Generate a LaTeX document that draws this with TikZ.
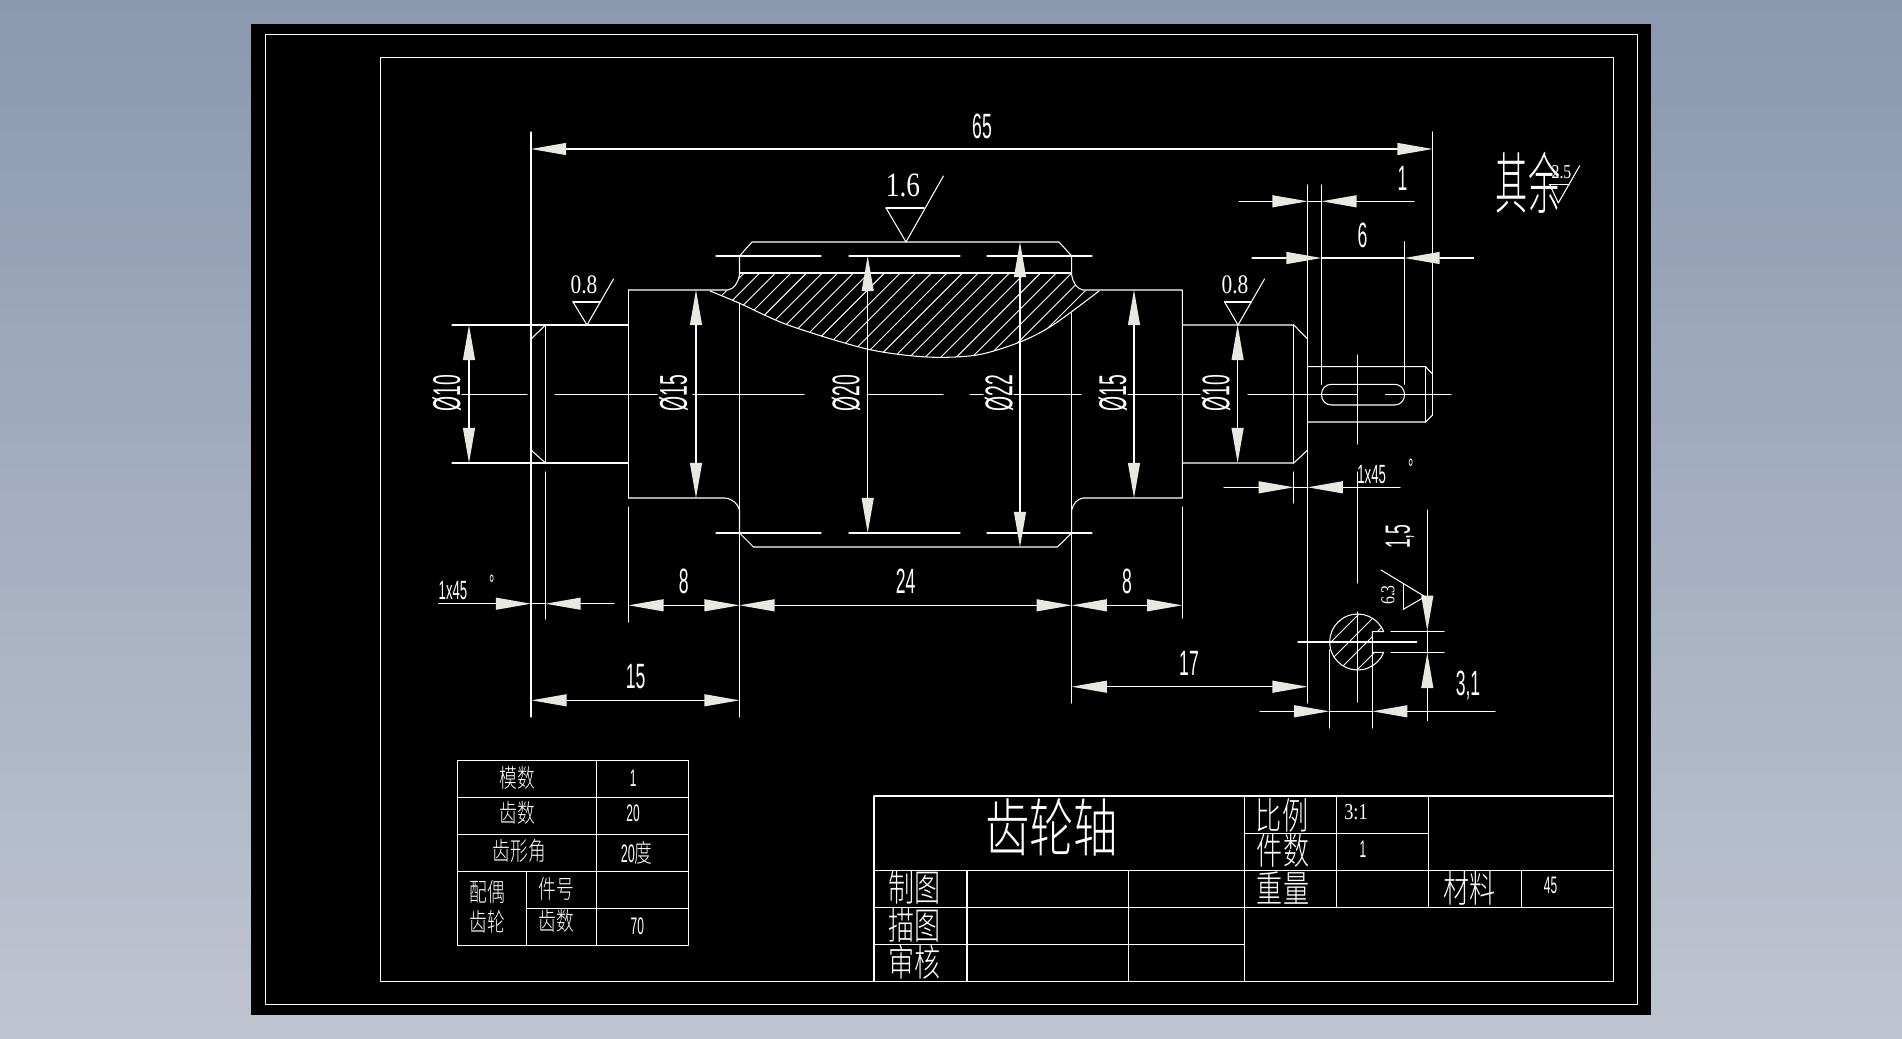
\documentclass[tikz,border=0pt]{standalone}
\usepackage{fontspec}
\usepackage{tikz}
\usetikzlibrary{arrows.meta}
\newfontfamily\cadfont[FakeStretch=0.5]{Liberation Sans}
\newfontfamily\rghfont[FakeStretch=0.8]{Liberation Serif}
\newfontfamily\cjkfont[FakeStretch=0.7,UprightFont=* Light]{Noto Sans CJK SC}
\newfontfamily\cjknarrow[FakeStretch=0.48,UprightFont=* Light]{Noto Sans CJK SC}
\definecolor{eeeedd}{rgb}{0.91,0.91,0.88}
\definecolor{bgtop}{rgb}{0.54,0.60,0.69}
\definecolor{bgbot}{rgb}{0.75,0.77,0.82}
\tikzstyle{every node}=[color=white,inner sep=0pt]
\tikzset{
  dimtext/.style={font=\cadfont\fontsize{10}{10}\selectfont},
  diatext/.style={font=\cadfont\fontsize{11}{11}\selectfont,rotate=90},
  smalltext/.style={font=\cadfont\fontsize{7.5}{8}\selectfont},
  celltext/.style={font=\cadfont\fontsize{6.8}{8}\selectfont},
  rghbig/.style={font=\rghfont\fontsize{9.7}{10}\selectfont},
  rghmid/.style={font=\rghfont\fontsize{7.6}{8}\selectfont},
  rghsmall/.style={font=\rghfont\fontsize{5.6}{6}\selectfont},
  tablecjk/.style={font=\cjkfont\fontsize{7.2}{8}\selectfont},
  blockcjk/.style={font=\cjkfont\fontsize{10.6}{11}\selectfont},
  titlecjk/.style={font=\cjkfont\fontsize{18}{19}\selectfont},
  wl/.style={line width=0.3pt,color=white},
  hatchline/.style={line width=0.26pt,color=white}
}
\begin{document}
\begin{tikzpicture}[line cap=round,line join=round,x=0.01cm,y=-0.01cm,
  >={Triangle[length=10pt,width=3.5pt,line width=0pt,fill=eeeedd,color=eeeedd]}]
            \useasboundingbox (0,0) rectangle (1902,1039);
            \shade[top color=bgtop,bottom color=bgbot] (0,0) rectangle (1902,1039);
            \fill[black] (251,24) rectangle (1651,1015);
            \draw [wl] (265.5,34.5) rectangle (1637.5,1004.5);
            \draw [wl] (380.5,57.5) rectangle (1613.5,981.5);
            % hatching of the cut
            \begin{scope}
            \clip (710,291) -- (728,290.5) .. controls (734,289) and (738,283) .. (739.5,275) -- (739.5,273) -- (1071.7,273) -- (1071.7,275) .. controls (1073,283) and (1077,289) .. (1083,290.5) -- (1099,291) -- plot[smooth] coordinates {(1053,325) (1020,342) (977,355) (927,357) (867,349) (788,325) (739,303) (710,291)} -- cycle;
            \foreach \k in {0,...,26}
              \draw [hatchline] ({713+15.6*\k},273) -- ++(-120,120);
            \end{scope}
            \draw [wl] plot[smooth] coordinates {(1099,291) (1053,325) (1020,342) (977,355) (927,357) (867,349) (788,325) (739,303) (710,291)};
            % shaft
            \draw [wl] (545.5,325) -- (545.5,463);
            \draw [wl] (531,339) -- (545.5,325);
            \draw [wl] (531,450) -- (545.5,463);
            \draw [wl] (452,325) -- (628.5,325);
            \draw [wl] (452,463) -- (628.5,463);
            \draw [wl] (628.5,290) -- (628.5,498);
            \draw [wl] (628.5,290) -- (728,290) .. controls (734,289) and (738,283) .. (739.5,275) -- (739.5,256) -- (752,242) -- (1059,242) -- (1071.7,256) -- (1071.7,275) .. controls (1073,283) and (1077,289) .. (1083,290) -- (1182.3,290) -- (1182.3,498) -- (1083,498) .. controls (1077,499) and (1073,504) .. (1071.7,510) -- (1071.7,533) -- (1057.4,547) -- (753.5,547) -- (739.5,533) -- (739.5,510) .. controls (738,504) and (733,499) .. (725,498) -- (628.5,498);
            \draw [wl] (739.5,273) -- (1071.7,273);
            \draw [wl] (739.5,303) -- (739.5,533);
            \draw [wl] (1071.7,313) -- (1071.7,533);
            \draw [wl] (716,256) -- (821,256);
            \draw [wl] (849,256) -- (960,256);
            \draw [wl] (987,256) -- (1092,256);
            \draw [wl] (716,533) -- (821,533);
            \draw [wl] (849,533) -- (960,533);
            \draw [wl] (987,533) -- (1092,533);
            \draw [wl] (1182.3,325) -- (1293.8,325) -- (1307.6,339);
            \draw [wl] (1182.3,463) -- (1293.8,463) -- (1307.6,450);
            \draw [wl] (1293.8,325) -- (1293.8,463);
            \draw [wl] (1307.6,366.7) -- (1425.5,366.7) -- (1432.6,374);
            \draw [wl] (1307.6,422) -- (1425.5,422) -- (1432.6,415);
            \draw [wl] (1425.5,366.7) -- (1425.5,422);
            \draw [wl,rounded corners=2.8pt] (1321.5,384.3) rectangle (1404.5,405);
            % center lines
            \draw [wl] (462,394.3) -- (527,394.3);
            \draw [wl] (555,394.3) -- (657,394.3);
            \draw [wl] (693,394.3) -- (804,394.3);
            \draw [wl] (867,394.3) -- (943,394.3);
            \draw [wl] (970,394.3) -- (983,394.3);
            \draw [wl] (1014,394.3) -- (1081,394.3);
            \draw [wl] (1128,394.3) -- (1200,394.3);
            \draw [wl] (1248,394.3) -- (1357.5,394.3);
            \draw [wl] (1385.5,394.3) -- (1451,394.3);
            \draw [wl] (1357.5,355) -- (1357.5,444);
            \draw [wl] (1357.5,472) -- (1357.5,583);
            \draw [wl] (1357.5,612) -- (1357.5,702);
            \draw [wl] (1298,642) -- (1416.7,642);
            % extension lines
            \draw [wl] (531,132) -- (531,717);
            \draw [wl] (1432.6,132) -- (1432.6,415);
            \draw [wl] (545.5,472) -- (545.5,619);
            \draw [wl] (628.5,507) -- (628.5,622);
            \draw [wl] (739.5,533) -- (739.5,717);
            \draw [wl] (1071.7,533) -- (1071.7,703);
            \draw [wl] (1182.3,507) -- (1182.3,618);
            \draw [wl] (1293.8,472) -- (1293.8,503);
            \draw [wl] (1307.6,185) -- (1307.6,703);
            \draw [wl] (1321.5,185) -- (1321.5,384.3);
            \draw [wl] (1404.5,241.7) -- (1404.5,384.3);
            \draw [wl] (1329.3,650) -- (1329.3,728);
            \draw [wl] (1372.3,652.3) -- (1372.3,728);
            \draw [wl] (1391,631.7) -- (1444,631.7);
            \draw [wl] (1391,652.3) -- (1444,652.3);
            % section
            \begin{scope}
            \clip (1383.7,652.3) -- (1372.3,652.3) -- (1372.3,631.7) -- (1383.7,631.7) arc[start angle=-21.6,end angle=-338.4,radius=28];
            \foreach \k in {0,...,6}
              \draw [hatchline] ({1345+18*\k},610) -- ++(-70,70);
            \end{scope}
            \draw [wl] (1383.7,652.3) -- (1372.3,652.3) -- (1372.3,631.7) -- (1383.7,631.7) arc[start angle=-21.6,end angle=-338.4,radius=28];
            % dimension lines
            \draw [<->,wl] (531,149) -- (1432.6,149);
            \draw [<->,wl] (469,325) -- (469,463);
            \draw [<->,wl] (696,290) -- (696,498);
            \draw [<->,wl] (867.7,256) -- (867.7,533);
            \draw [<->,wl] (1020,242) -- (1020,547);
            \draw [<->,wl] (1134,290) -- (1134,498);
            \draw [<->,wl] (1237.6,325) -- (1237.6,463);
            \draw [<->,wl] (628.5,605.3) -- (739.5,605.3);
            \draw [<->,wl] (739.5,605.3) -- (1071.7,605.3);
            \draw [<->,wl] (1071.7,605.3) -- (1182.3,605.3);
            \draw [<->,wl] (531.5,700.3) -- (739.5,700.3);
            \draw [<->,wl] (1071.7,686.7) -- (1307.6,686.7);
            \draw [->,wl] (438.4,603.7) -- (531,603.7);
            \draw [->,wl] (614,603.7) -- (545.5,603.7);
            \draw [wl] (531,603.7) -- (545.5,603.7);
            \draw [->,wl] (1239,201.3) -- (1307.6,201.3);
            \draw [->,wl] (1414,201.3) -- (1321.5,201.3);
            \draw [wl] (1307.6,201.3) -- (1321.5,201.3);
            \draw [->,wl] (1252,258) -- (1321.5,258);
            \draw [->,wl] (1473.7,258) -- (1404.5,258);
            \draw [wl] (1321.5,258) -- (1404.5,258);
            \draw [->,wl] (1224,487.3) -- (1293.8,487.3);
            \draw [->,wl] (1400,487.3) -- (1307.6,487.3);
            \draw [wl] (1293.8,487.3) -- (1307.6,487.3);
            \draw [->,wl] (1260,711.3) -- (1329.3,711.3);
            \draw [->,wl] (1495,711.3) -- (1372.3,711.3);
            \draw [wl] (1329.3,711.3) -- (1372.3,711.3);
            \draw [->,wl] (1427.3,510) -- (1427.3,630.7);
            \draw [->,wl] (1427.3,720.7) -- (1427.3,653);
            \draw [wl] (1427.3,630.7) -- (1427.3,653);
            % roughness marks
            \draw [wl] (886,208) -- (924,208);
            \draw [wl] (886,208) -- (906,242) -- (943.4,176);
            \draw [wl] (573,302) -- (600,302);
            \draw [wl] (573,302) -- (587,325) -- (613.5,279);
            \draw [wl] (1224.6,302) -- (1251.5,302);
            \draw [wl] (1224.6,302) -- (1238,325) -- (1264.5,279);
            \draw [wl] (1549.6,184.3) -- (1569.4,184.3);
            \draw [wl] (1549.6,184.3) -- (1558.3,203) -- (1579.7,165.7);
            \draw [wl] (1403.3,583.3) -- (1403.3,609.3);
            \draw [wl] (1403.3,609.3) -- (1425,596.7) -- (1381,570);
            % dimension texts
            \node [dimtext] (len65) at (982,126) {65};
            \node [diatext] (diaA) at (446.7,393) {Ø10};
            \node [diatext] (diaB) at (673.6,393) {Ø15};
            \node [diatext] (diaC) at (846,393) {Ø20};
            \node [diatext] (diaD) at (999,393) {Ø22};
            \node [diatext] (diaE) at (1112.7,393) {Ø15};
            \node [diatext] (diaF) at (1216,393) {Ø10};
            \node [dimtext] (lenA) at (1402.5,178) {1};
            \node [dimtext] (lenB) at (1362.6,235) {6};
            \node [dimtext] (lenC) at (683.7,581.7) {8};
            \node [dimtext] (lenD) at (905.7,581.7) {24};
            \node [dimtext] (lenE) at (1127,581.7) {8};
            \node [dimtext] (lenF) at (635.7,676.7) {15};
            \node [dimtext] (lenG) at (1189,663) {17};
            \node [dimtext] (keyA) at (1468,685) {3,1};
            \node [dimtext,rotate=90] (keyB) at (1400,536.7) {1,5};
            \node [smalltext] (chamA) at (453,590.7) {1x45};
            \node [smalltext] (chamB) at (1371.7,475) {1x45};
            \node [smalltext] (degA) at (491.7,584) {°};
            \node [smalltext] (degB) at (1410.7,468) {°};
            \node [rghbig] (rghA) at (903,185) {1.6};
            \node [rghmid] (rghB) at (584,285) {0.8};
            \node [rghmid] (rghC) at (1235,285) {0.8};
            \node [rghsmall] (rghD) at (1561.5,172) {2.5};
            \node [rghsmall,rotate=90] (rghE) at (1388,595) {6.3};
            \node [font=\cjknarrow\fontsize{19}{20}\selectfont] (rest) at (1528,183) {其余};
            % gear table
            \draw [wl] (457.3,760.3) rectangle (688.7,945.3);
            \draw [wl] (457.3,797.3) -- (688.7,797.3);
            \draw [wl] (457.3,834.3) -- (688.7,834.3);
            \draw [wl] (457.3,871.3) -- (688.7,871.3);
            \draw [wl] (526.3,908.3) -- (688.7,908.3);
            \draw [wl] (596.3,760.3) -- (596.3,945.3);
            \draw [wl] (526.3,871.3) -- (526.3,945.3);
            \node [tablecjk] (modName) at (517.3,778) {模数};
            \node [celltext] (modVal) at (633.3,778.7) {1};
            \node [tablecjk] (teethName) at (517.3,813) {齿数};
            \node [celltext] (teethVal) at (633,813.7) {20};
            \node [tablecjk] (angName) at (519.3,850.7) {齿形角};
            \node [tablecjk] (angVal) at (636.7,853) {{\cadfont 20}度};
            \node [tablecjk] (mateA) at (487.3,891.7) {配偶};
            \node [tablecjk] (mateB) at (487.3,921.7) {齿轮};
            \node [tablecjk] (partName) at (556.7,889.3) {件号};
            \node [tablecjk] (mateTeeth) at (556.7,920.7) {齿数};
            \node [celltext] (mateVal) at (637.3,926) {70};
            % title block
            \draw [wl] (874,796) -- (1613.7,796);
            \draw [wl] (1244.6,833.3) -- (1428.7,833.3);
            \draw [wl] (874,870.3) -- (1613.7,870.3);
            \draw [wl] (874,907.3) -- (1613.7,907.3);
            \draw [wl] (874,944.3) -- (1244.6,944.3);
            \draw [wl] (874,796) -- (874,981);
            \draw [wl] (967,870.3) -- (967,981);
            \draw [wl] (1128.7,870.3) -- (1128.7,981);
            \draw [wl] (1244.6,796) -- (1244.6,981);
            \draw [wl] (1336.6,796) -- (1336.6,907.3);
            \draw [wl] (1428.7,796) -- (1428.7,907.3);
            \draw [wl] (1521.7,870.3) -- (1521.7,907.3);
            \node [titlecjk] (title) at (1051.5,827) {齿轮轴};
            \node [blockcjk] (scaleName) at (1282,815) {比例};
            \node [blockcjk] (countName) at (1283,850) {件数};
            \node [blockcjk] (weightName) at (1283,888) {重量};
            \node [blockcjk] (drawn) at (914.7,887.3) {制图};
            \node [blockcjk] (traced) at (914.7,925) {描图};
            \node [blockcjk] (checked) at (914.7,962.7) {审核};
            \node [blockcjk] (matName) at (1469.5,888) {材料};
            \node [font=\rghfont\fontsize{6.5}{7}\selectfont] (scaleVal) at (1356,811.7) {3:1};
            \node [celltext] (countVal) at (1363,849) {1};
            \node [celltext] (matVal) at (1550.5,885) {45};
            \end{tikzpicture}
\end{document}
